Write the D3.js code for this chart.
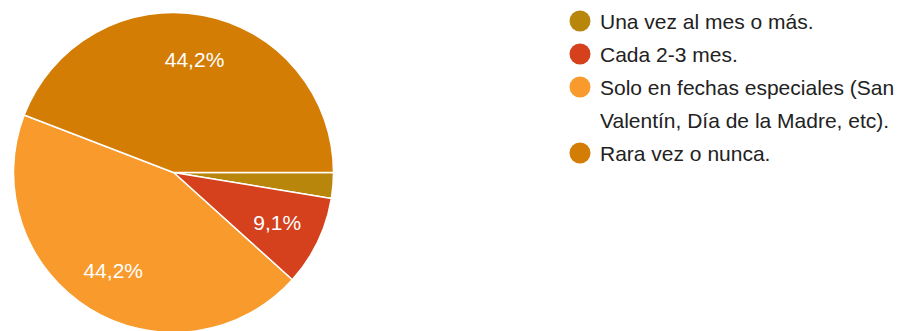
<!DOCTYPE html>
<html>
<head>
<meta charset="utf-8">
<script src="https://cdn.jsdelivr.net/npm/d3@7"></script>
<style>
  html, body { margin: 0; padding: 0; background: #fff; }
  svg { display: block; font-family: "Liberation Sans", Arial, sans-serif; }
</style>
</head>
<body>
<svg id="chart" width="911" height="331"></svg>
<script>
// Survey answers (counts) and their legend labels
const categories = [
  "Una vez al mes o más.",
  "Cada 2-3 mes.",
  "Solo en fechas especiales (San Valentín, Día de la Madre, etc).",
  "Rara vez o nunca."
];
const legendLines = [
  ["Una vez al mes o más."],
  ["Cada 2-3 mes."],
  ["Solo en fechas especiales (San", "Valentín, Día de la Madre, etc)."],
  ["Rara vez o nunca."]
];
const counts = [2, 7, 34, 34];
const colors = ["#b8860b", "#d5401d", "#f89a2c", "#d47d04"];

const svg = d3.select("#chart");
const cx = 173.5, cy = 172.5, radius = 160;

const total = d3.sum(counts);
const data = categories.map((c, i) => ({ name: c, value: counts[i], color: colors[i] }));

// Slices run clockwise starting at 3 o'clock
const pie = d3.pie()
  .value(d => d.value)
  .sort(null)
  .startAngle(Math.PI / 2)
  .endAngle(Math.PI / 2 + 2 * Math.PI);

const arc = d3.arc().innerRadius(0).outerRadius(radius);
const labelArc = d3.arc().innerRadius(radius * 0.72).outerRadius(radius * 0.72);

const g = svg.append("g").attr("transform", `translate(${cx},${cy})`);
const arcs = pie(data);

g.selectAll("path.slice")
  .data(arcs)
  .join("path")
  .attr("class", "slice")
  .attr("d", arc)
  .attr("fill", d => d.data.color)
  .attr("stroke", "#fff")
  .attr("stroke-width", 1.5)
  .attr("stroke-linejoin", "round");

// Percentage labels on slices big enough to hold them
const fmt = v => (Math.round(v * 1000) / 10).toFixed(1).replace(".", ",") + "%";
g.selectAll("text.pct")
  .data(arcs.filter(d => d.data.value / total > 0.05))
  .join("text")
  .attr("class", "pct")
  .attr("transform", d => `translate(${labelArc.centroid(d)})`)
  .attr("text-anchor", "middle")
  .attr("dy", "0.36em")
  .attr("fill", "#fff")
  .attr("font-size", 21)
  .text(d => fmt(d.data.value / total));

// Legend
const legend = svg.append("g").attr("transform", "translate(580,0)");
let y = 21;
const lineH = 33;
legendLines.forEach((lines, i) => {
  const item = legend.append("g");
  item.append("circle")
    .attr("cx", 0).attr("cy", y)
    .attr("r", 10.5)
    .attr("fill", colors[i]);
  lines.forEach((t, j) => {
    item.append("text")
      .attr("x", 20)
      .attr("y", y + j * lineH)
      .attr("dy", "0.36em")
      .attr("font-size", 21)
      .attr("fill", "#222")
      .text(t);
  });
  y += lines.length * lineH;
});
</script>
</body>
</html>
